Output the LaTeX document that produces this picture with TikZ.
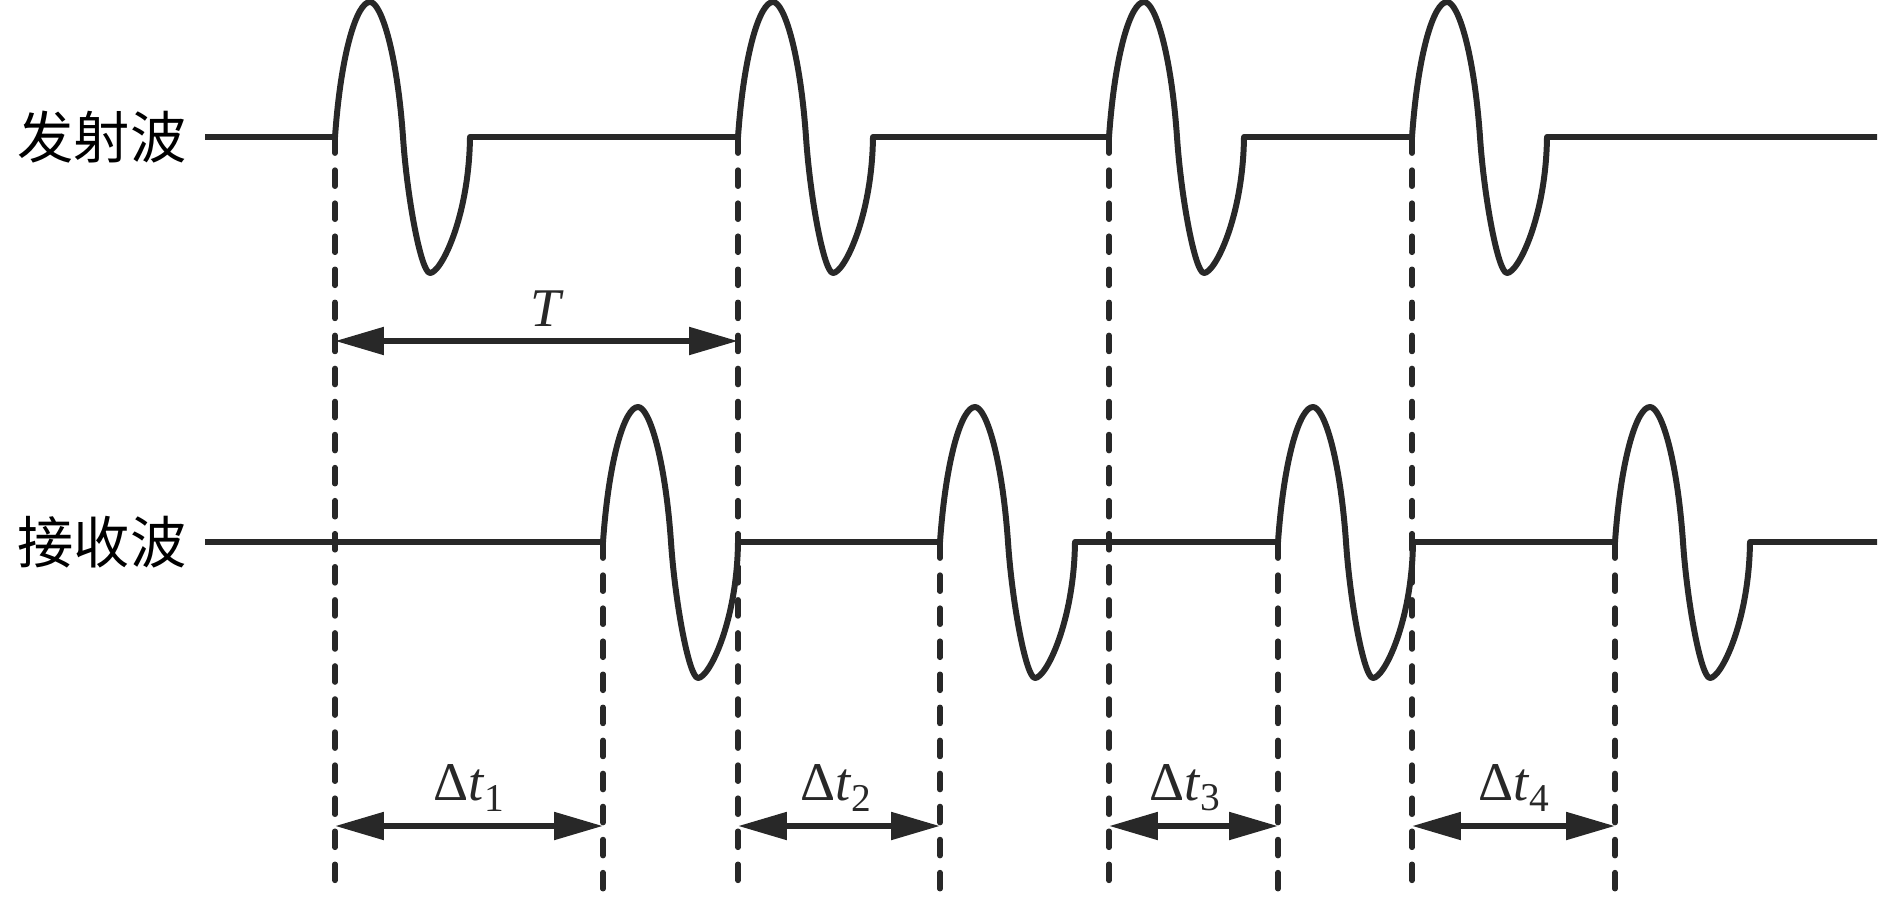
\documentclass[tikz,border=0pt]{standalone}
\usepackage{fontspec}
\setmainfont{Liberation Serif}
\newfontfamily\cjk{Noto Sans CJK SC}
\usetikzlibrary{arrows.meta}

\definecolor{ink}{RGB}{40,40,40}
% one pulse, starting at (#1,#2)
\newcommand{\pulse}[2]{-- (#1,#2)
  .. controls ({#1+6},{#2-85}) and ({#1+22},{#2-135}) .. ({#1+35},{#2-135})
  .. controls ({#1+46},{#2-135}) and ({#1+62},{#2-85}) .. ({#1+68},#2)
  .. controls ({#1+72},{#2+60}) and ({#1+86},{#2+136}) .. ({#1+95},{#2+136})
  .. controls ({#1+106},{#2+136}) and ({#1+134},{#2+80}) .. ({#1+135},#2)}
\newcommand{\dt}[1]{Δ\textit{t}\raisebox{-0.2em}{\fontsize{11.2}{12}\selectfont #1}}

\tikzset{
  wave/.style={ink, line width=1.7pt, line join=round},
  guide/.style={ink, line width=1.55pt, line cap=round, dash pattern=on 4.6pt off 4.8pt},
  span/.style={ink, line width=1.7pt, {Triangle[length=13.9pt,width=7.6pt]}-{Triangle[length=13.9pt,width=7.6pt]}},
  lbl/.style={font=\fontsize{16}{18}\selectfont\cjk},
}

\begin{document}
\begin{tikzpicture}[x=0.01cm, y=-0.01cm, node distance=1.03cm, font=\fontsize{15.5}{18}\selectfont]
\useasboundingbox (0,0) rectangle (1890,897);
%nodes

\coordinate (tx0) at (205,137);
\coordinate (tx1) at (1877,137);
\node (tx)[lbl, left of=tx0]  {发射波};

\coordinate (rx0) at (205,542);
\coordinate (rx1) at (1877,542);
\node (rx)[lbl, left of=rx0]  {接收波};

\foreach \x [count=\i] in {335,738,1109,1412} {
  \coordinate (s\i) at (\x,137);
  \coordinate (s\i e) at (\x,892);
}
\foreach \x [count=\i] in {603,940,1278,1615} {
  \coordinate (r\i) at (\x,542);
  \coordinate (r\i e) at (\x,892);
}

%links
\foreach \i in {1,...,4} {
  \draw[guide] (s\i) -- (s\i e);
  \draw[guide] (r\i) -- (r\i e);
}

\draw[wave] (tx0) \foreach \x in {335,738,1109,1412} {\pulse{\x}{137}} -- (tx1);
\draw[wave] (rx0) \foreach \x in {603,940,1278,1615} {\pulse{\x}{542}} -- (rx1);

\coordinate (T0) at (335,341);
\coordinate (T1) at (738,341);
\draw[span] (T0) -- node[above, xshift=0.11cm] (lT) {\textit{T}} (T1);

\foreach \a/\b/\n/\s in {335/603/1/0, 738/940/2/-0.03, 1109/1278/3/-0.09, 1412/1615/4/0} {
  \coordinate (d\n a) at (\a,826);
  \coordinate (d\n b) at (\b,826);
  \draw[span] (d\n a) -- node[above, xshift=\s cm] (ldt\n) {\dt{\n}} (d\n b);
}
\end{tikzpicture}
\end{document}
